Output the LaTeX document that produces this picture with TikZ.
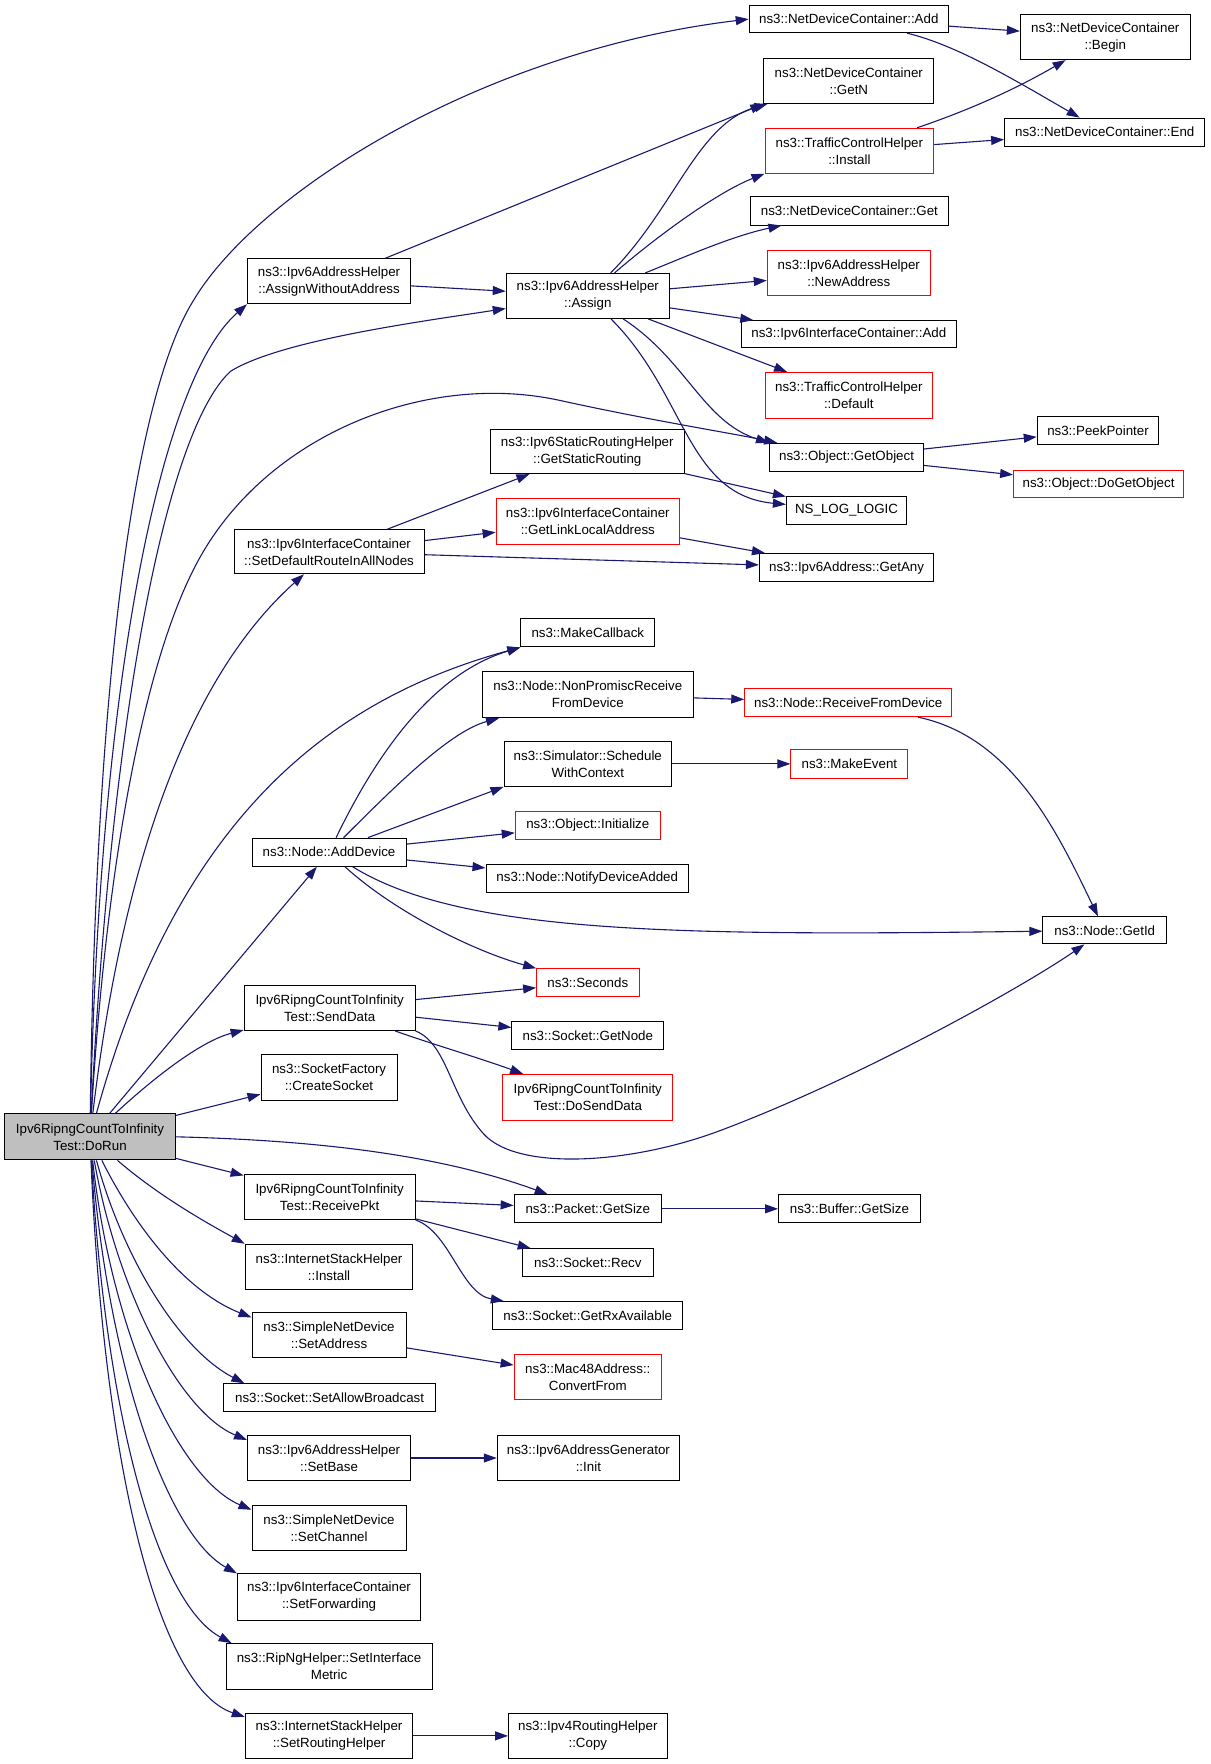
\documentclass[tikz,border=0pt]{standalone}
\usepackage{fontspec}
\setmainfont{Liberation Sans}
\usetikzlibrary{arrows.meta}
\definecolor{edgec}{HTML}{191970}
\definecolor{rootfill}{HTML}{BFBFBF}
\tikzset{
  gv/.style={draw=black, line width=1pt, inner sep=0pt, align=center, fill=white,
    font=\fontsize{13.33}{17}\selectfont},
  gvred/.style={gv, draw=red},
  gvroot/.style={gv, fill=rootfill},
  call/.style={draw=edgec, line width=1.1pt, -{Triangle[length=13pt,width=9pt]}},
}
\newcommand{\gvbox}[7]{\node[#1, minimum width={1.125pt*(#5-#3)}, minimum height={1.125pt*(#6-#4)}] (#2) at ({(#3+#5)/2},{(#4+#6)/2}) {#7};}
\begin{document}
\begin{tikzpicture}[x=1.125pt,y=-1.125pt]
\useasboundingbox (0,0) rectangle (1076.44,1568);
% nodes
\gvbox{gvroot}{dorun}{4}{990}{156}{1031}{Ipv6RipngCountToInfinity\\Test::DoRun}
\gvbox{gv}{ndcadd}{666}{5}{843}{29}{ns3::NetDeviceContainer::Add}
\gvbox{gv}{ndcbegin}{907}{13}{1058}{53}{ns3::NetDeviceContainer\\::Begin}
\gvbox{gv}{ndcgetn}{679}{52}{830}{92}{ns3::NetDeviceContainer\\::GetN}
\gvbox{gvred}{tchinstall}{680}{114}{830}{154}{ns3::TrafficControlHelper\\::Install}
\gvbox{gv}{ndcend}{893}{105}{1071}{130}{ns3::NetDeviceContainer::End}
\gvbox{gv}{ndcget}{667}{175}{843}{200}{ns3::NetDeviceContainer::Get}
\gvbox{gvred}{newaddr}{682}{223}{827}{263}{ns3::Ipv6AddressHelper\\::NewAddress}
\gvbox{gv}{ifcadd}{659}{285}{850}{309}{ns3::Ipv6InterfaceContainer::Add}
\gvbox{gvred}{tcdefault}{680}{331}{829}{372}{ns3::TrafficControlHelper\\::Default}
\gvbox{gv}{assign}{450}{243}{595}{283}{ns3::Ipv6AddressHelper\\::Assign}
\gvbox{gv}{awa}{220}{230}{365}{270}{ns3::Ipv6AddressHelper\\::AssignWithoutAddress}
\gvbox{gv}{getobject}{684}{394}{821}{419}{ns3::Object::GetObject}
\gvbox{gv}{peek}{922}{370}{1030}{395}{ns3::PeekPointer}
\gvbox{gvred}{dogetobject}{901}{418}{1052}{442}{ns3::Object::DoGetObject}
\gvbox{gv}{gsr}{436}{382}{608}{421}{ns3::Ipv6StaticRoutingHelper\\::GetStaticRouting}
\gvbox{gv}{nslog}{699}{441}{806}{466}{NS\_LOG\_LOGIC}
\gvbox{gvred}{glla}{441}{443}{604}{484}{ns3::Ipv6InterfaceContainer\\::GetLinkLocalAddress}
\gvbox{gv}{sdr}{208}{471}{377}{510}{ns3::Ipv6InterfaceContainer\\::SetDefaultRouteInAllNodes}
\gvbox{gv}{getany}{675}{492}{830}{517}{ns3::Ipv6Address::GetAny}
\gvbox{gv}{makecb}{463}{550}{582}{575}{ns3::MakeCallback}
\gvbox{gv}{nonpromisc}{429}{597}{616}{638}{ns3::Node::NonPromiscReceive\\FromDevice}
\gvbox{gvred}{rfd}{662}{612}{846}{637}{ns3::Node::ReceiveFromDevice}
\gvbox{gv}{schedule}{448}{659}{597}{699}{ns3::Simulator::Schedule\\WithContext}
\gvbox{gvred}{makeevent}{703}{666}{807}{692}{ns3::MakeEvent}
\gvbox{gvred}{initialize}{458}{721}{587}{746}{ns3::Object::Initialize}
\gvbox{gv}{adddevice}{224}{745}{361}{770}{ns3::Node::AddDevice}
\gvbox{gv}{notify}{432}{768}{612}{793}{ns3::Node::NotifyDeviceAdded}
\gvbox{gv}{getid}{927}{815}{1037}{839}{ns3::Node::GetId}
\gvbox{gvred}{seconds}{477}{861}{568}{886}{ns3::Seconds}
\gvbox{gv}{senddata}{217}{876}{369}{916}{Ipv6RipngCountToInfinity\\Test::SendData}
\gvbox{gv}{getnode}{455}{908}{590}{933}{ns3::Socket::GetNode}
\gvbox{gvred}{dosenddata}{447}{955}{598}{996}{Ipv6RipngCountToInfinity\\Test::DoSendData}
\gvbox{gv}{createsocket}{232}{937}{353}{978}{ns3::SocketFactory\\::CreateSocket}
\gvbox{gv}{receivepkt}{217}{1044}{369}{1084}{Ipv6RipngCountToInfinity\\Test::ReceivePkt}
\gvbox{gv}{pktsize}{457}{1062}{588}{1087}{ns3::Packet::GetSize}
\gvbox{gv}{bufsize}{692}{1062}{818}{1087}{ns3::Buffer::GetSize}
\gvbox{gv}{recv}{464}{1110}{581}{1135}{ns3::Socket::Recv}
\gvbox{gv}{getrx}{438}{1157}{607}{1182}{ns3::Socket::GetRxAvailable}
\gvbox{gv}{ishinstall}{218}{1106}{367}{1146}{ns3::InternetStackHelper\\::Install}
\gvbox{gv}{setaddress}{224}{1167}{361}{1207}{ns3::SimpleNetDevice\\::SetAddress}
\gvbox{gvred}{convertfrom}{457}{1204}{588}{1244}{ns3::Mac48Address::\\ConvertFrom}
\gvbox{gv}{allowbc}{199}{1230}{387}{1255}{ns3::Socket::SetAllowBroadcast}
\gvbox{gv}{setbase}{220}{1276}{365}{1316}{ns3::Ipv6AddressHelper\\::SetBase}
\gvbox{gv}{geninit}{442}{1276}{604}{1316}{ns3::Ipv6AddressGenerator\\::Init}
\gvbox{gv}{setchannel}{224}{1338}{361}{1378}{ns3::SimpleNetDevice\\::SetChannel}
\gvbox{gv}{setfwd}{211}{1399}{374}{1440}{ns3::Ipv6InterfaceContainer\\::SetForwarding}
\gvbox{gv}{setmetric}{201}{1461}{384}{1502}{ns3::RipNgHelper::SetInterface\\Metric}
\gvbox{gv}{setrouting}{218}{1523}{367}{1563}{ns3::InternetStackHelper\\::SetRoutingHelper}
\gvbox{gv}{copy}{452}{1523}{593}{1563}{ns3::Ipv4RoutingHelper\\::Copy}
% edges from DoRun
\draw[call] (dorun) .. controls (85,600) and (120,350) .. (172,267) .. controls (230,170) and (430,45) .. (ndcadd.west);
\draw[call] (dorun) .. controls (88,620) and (140,340) .. (awa.south west);
\draw[call] (dorun) .. controls (100,620) and (150,380) .. (205,330) .. controls (250,302) and (380,285) .. (assign);
\draw[call] (dorun) .. controls (95,760) and (130,580) .. (178,495) .. controls (240,385) and (380,330) .. (498,356) .. controls (580,374) and (650,385) .. (getobject);
\draw[call] (dorun) .. controls (110,760) and (170,600) .. (sdr);
\draw[call] (dorun) .. controls (160,720) and (300,620) .. (makecb.south west);
\draw[call] (dorun) -- (adddevice);
\draw[call] (dorun) .. controls (140,955) and (180,925) .. (senddata);
\draw[call] (dorun) -- (createsocket);
\draw[call] (dorun.east) .. controls (300,1014) and (400,1030) .. (pktsize);
\draw[call] (dorun) -- (receivepkt);
\draw[call] (dorun) .. controls (140,1062) and (180,1085) .. (ishinstall.north west);
\draw[call] (dorun) .. controls (125,1100) and (170,1150) .. ([yshift=-5pt]setaddress.north west);
\draw[call] (dorun) .. controls (110,1120) and (160,1200) .. ([xshift=21pt]allowbc.north west);
\draw[call] (dorun) .. controls (105,1150) and (160,1255) .. ([yshift=-5pt]setbase.north west);
\draw[call] (dorun) .. controls (100,1190) and (160,1315) .. ([yshift=-5pt]setchannel.north west);
\draw[call] (dorun) .. controls (97,1220) and (150,1365) .. (setfwd.north west);
\draw[call] (dorun) .. controls (94,1260) and (140,1425) .. ([xshift=6pt]setmetric.north west);
\draw[call] (dorun) .. controls (92,1300) and (140,1500) .. ([yshift=-4pt]setrouting.north west);
% other edges
\draw[call] (awa) -- (ndcgetn.south west);
\draw[call] (awa) -- (assign);
\draw[call] (assign) .. controls (600,185) and (620,110) .. (ndcgetn);
\draw[call] (assign) .. controls (590,205) and (640,170) .. (tchinstall.south west);
\draw[call] (assign) .. controls (610,228) and (650,210) .. (ndcget);
\draw[call] (assign) -- (newaddr);
\draw[call] (assign) -- (ifcadd);
\draw[call] (assign) -- (tcdefault);
\draw[call] (assign) .. controls (610,320) and (625,375) .. (getobject.north west);
\draw[call] (assign) .. controls (610,350) and (610,440) .. (nslog);
\draw[call] (ndcadd) -- (ndcbegin);
\draw[call] (ndcadd) .. controls (850,40) and (900,70) .. (ndcend);
\draw[call] (tchinstall) .. controls (870,95) and (910,75) .. (ndcbegin);
\draw[call] (tchinstall) -- (ndcend);
\draw[call] (getobject) -- (peek);
\draw[call] (getobject) -- (dogetobject);
\draw[call] (gsr) -- (nslog);
\draw[call] (sdr) -- (gsr);
\draw[call] (sdr) -- (glla);
\draw[call] (sdr) -- (getany);
\draw[call] (glla) -- (getany);
\draw[call] (adddevice) .. controls (330,680) and (380,600) .. (makecb.south west);
\draw[call] (adddevice) .. controls (350,700) and (400,650) .. (nonpromisc);
\draw[call] (adddevice) -- (schedule.south west);
\draw[call] (adddevice) -- (initialize);
\draw[call] (adddevice) -- (notify);
\draw[call] (adddevice) .. controls (410,830) and (600,832) .. (getid);
\draw[call] (adddevice) .. controls (350,810) and (420,845) .. (seconds);
\draw[call] (nonpromisc) -- (rfd);
\draw[call] (rfd) .. controls (900,655) and (940,740) .. (getid);
\draw[call] (schedule) -- (makeevent);
\draw[call] (senddata) -- (seconds);
\draw[call] (senddata) -- (getnode);
\draw[call] (senddata) .. controls (390,930) and (425,940) .. (dosenddata);
\draw[call] (senddata.south east) .. controls (398,928) and (400,975) .. (430,1008) .. controls (460,1041) and (560,1035) .. (640,1005) .. controls (760,960) and (905,880) .. (getid);
\draw[call] (receivepkt) -- (pktsize);
\draw[call] (receivepkt) -- (recv);
\draw[call] (receivepkt.south east) .. controls (400,1095) and (410,1150) .. (getrx);
\draw[call] (pktsize) -- (bufsize);
\draw[call] (setaddress) -- (convertfrom);
\draw[call] (setbase) -- (geninit);
\draw[call] (setrouting) -- (copy);
\end{tikzpicture}
\end{document}
